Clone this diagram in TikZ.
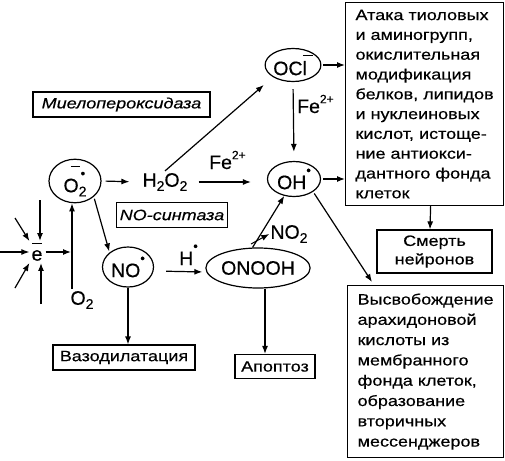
\documentclass[tikz,border=0pt]{standalone}
\usepackage{fontspec}
\setmainfont{Liberation Sans}[FakeBold=0.4]
\newfontfamily\boxfont{Liberation Sans}[FakeStretch=1.2,FakeBold=0.4]
\usetikzlibrary{arrows.meta,shapes.geometric}
\newcommand{\csub}[1]{\raisebox{-0.4ex}{\fontsize{14}{14}\selectfont #1}}
\newcommand{\csup}[1]{\raisebox{0.95ex}{\fontsize{12}{12}\selectfont #1}}
\newcommand{\rad}{\raisebox{1.4ex}{\fontsize{13}{13}\selectfont\textbullet}}
\newcommand{\supox}{O\rlap{\csub{2}}\rlap{\kern0.1em\raisebox{1.4ex}{\fontsize{13}{13}\selectfont\textbullet}}\rlap{\kern-0.4em\raisebox{2.5ex}{\rule{0.45em}{0.9pt}}}\phantom{\csub{2}}}
\newcommand{\hypo}{OCl\rlap{\kern-0.2em\raisebox{1.9ex}{\rule{0.5em}{0.9pt}}}\kern0.3em}
\newcommand{\ebar}{\rlap{\kern0.03em\raisebox{1.6ex}{\rule{0.5em}{0.9pt}}}e}
\begin{document}
\begin{tikzpicture}[x=1pt,y=-1pt,
  arr/.style={-{Latex[length=8pt,width=6pt]},line width=1.2pt},
  ell/.style={ellipse,draw,line width=1.2pt,inner sep=0pt},
  box/.style={draw,line width=1.2pt,inner sep=0pt},
  chem/.style={font=\fontsize{19.5}{21}\selectfont},
  btxt/.style={font=\boxfont\fontsize{15}{19.8}\selectfont}
]
\useasboundingbox (0,0) rectangle (505,460);

% chemical species
\node[ell,chem,minimum width=52pt,minimum height=35pt] (sup) at (75,181) {\supox};
\node[chem,inner sep=2pt] (h2o2) at (165,182) {H\csub{2}O\csub{2}};
\node[ell,chem,minimum width=54pt,minimum height=33pt] (ocl) at (293,65) {\hypo};
\node[ell,chem,minimum width=53pt,minimum height=35pt] (oh) at (294,179) {OH\rad};
\node[ell,chem,minimum width=51pt,minimum height=40pt] (no) at (128,267) {NO\rad};
\node[ell,chem,minimum width=80pt,minimum height=40pt] (onooh) at (258,268) {ONOOH};
\node[chem,inner sep=2pt] (e) at (37,252) {\ebar};
\node[chem,inner sep=2pt] (o2) at (82,300) {O\csub{2}};
\node[chem,inner sep=1pt] (no2) at (289,234) {NO\csub{2}};

% labels on arrows
\node[chem,anchor=base west,inner sep=0pt] (fe1) at (297,113) {Fe\csup{2+}};
\node[chem,anchor=base west,inner sep=0pt] (fe2) at (209,169) {Fe\csup{2+}};
\node[chem,anchor=base west,inner sep=0pt] (hrad) at (179,265) {H\rad};

% boxes
\node[box,font=\boxfont\itshape\fontsize{15}{18}\selectfont,minimum width=177pt,minimum height=25pt] (mpo) at (121.5,104.5) {Миелопероксидаза};
\node[box,font=\boxfont\itshape\fontsize{15}{18}\selectfont,minimum width=111pt,minimum height=25pt] (nos) at (172,215) {NO-синтаза};
\node[box,btxt,minimum width=142pt,minimum height=25pt] (vaz) at (124,357.5) {Вазодилатация};
\node[box,btxt,minimum width=80pt,minimum height=24pt] (apo) at (275,366.5) {Апоптоз};
\node[box,btxt,anchor=north west,align=left,minimum width=158pt,minimum height=203pt] (atk) at (345,2)
  {Атака тиоловых\\и аминогрупп,\\окислительная\\модификация\\белков, липидов\\и нуклеиновых\\кислот, истоще-\\ние антиокси-\\дантного фонда\\клеток};
\node[box,font=\boxfont\fontsize{15}{18.5}\selectfont,align=center,minimum width=115pt,minimum height=43pt] (smt) at (434.5,251.5) {Смерть\\нейронов};
\node[box,font=\boxfont\fontsize{15}{20.3}\selectfont,anchor=north west,align=left,minimum width=156pt,minimum height=172pt] (vys) at (347,285)
  {Высвобождение\\арахидоновой\\кислоты из\\мембранного\\фонда клеток,\\образование\\вторичных\\мессенджеров};

% electron inputs
\coordinate (eL) at (0,252);
\coordinate (eT) at (40,200);
\coordinate (eTL) at (15,218);
\coordinate (eBL) at (15,288);
\coordinate (eB) at (41,304);
\coordinate (ej) at (71,252);
\coordinate (o2top) at (72,289);
\coordinate (nostart) at (251,244);

\draw[arr] (eL) -- (e.west);
\draw[arr] (eT) -- (eT |- e.north);
\draw[arr] (eTL) -- (e.north west);
\draw[arr] (eBL) -- (e.south west);
\draw[arr] (eB) -- (eB |- e.south);
\draw[arr,shorten <=1pt] (e.east) -- (ej);
\draw[arr] (o2top) -- (o2top |- sup.south);

% main pathway
\draw[arr,shorten <=4pt,shorten >=11pt] (sup.east) -- (h2o2.west);
\draw[arr,shorten <=2pt,shorten >=1pt] (sup.south east) -- (no.north west);
\draw[arr,shorten >=12pt] (h2o2.north) -- (ocl.south west);
\draw[arr,shorten <=9pt,shorten >=16pt] (h2o2.east) -- (h2o2.east -| oh.west);
\draw[arr,shorten <=7pt,shorten >=9pt] (ocl.south) -- (oh.north);
\draw[arr,shorten <=12pt,shorten >=3pt] ([yshift=-4pt]no.east) -- ([yshift=-4pt]onooh.west);
\draw[arr] (onooh.105) -- (oh.240);
\draw[arr,line width=1pt] (nostart) -- (no2.west);
\draw[arr] (no.south) -- (no.south |- vaz.north);
\draw[arr] ([xshift=7pt]onooh.south) -- ([xshift=7pt]onooh.south |- apo.north);

% to effect boxes
\draw[arr,shorten <=2pt] (ocl.east) -- (ocl.east -| atk.west);
\draw[arr,shorten <=2pt] (oh.east) -- (oh.east -| atk.west);
\draw[arr,shorten <=2pt] (oh.south east) -- ([xshift=25pt,yshift=3pt]vys.north west);
\draw[arr] ([xshift=6pt]atk.south) -- ([xshift=-4.5pt]smt.north);
\end{tikzpicture}
\end{document}
